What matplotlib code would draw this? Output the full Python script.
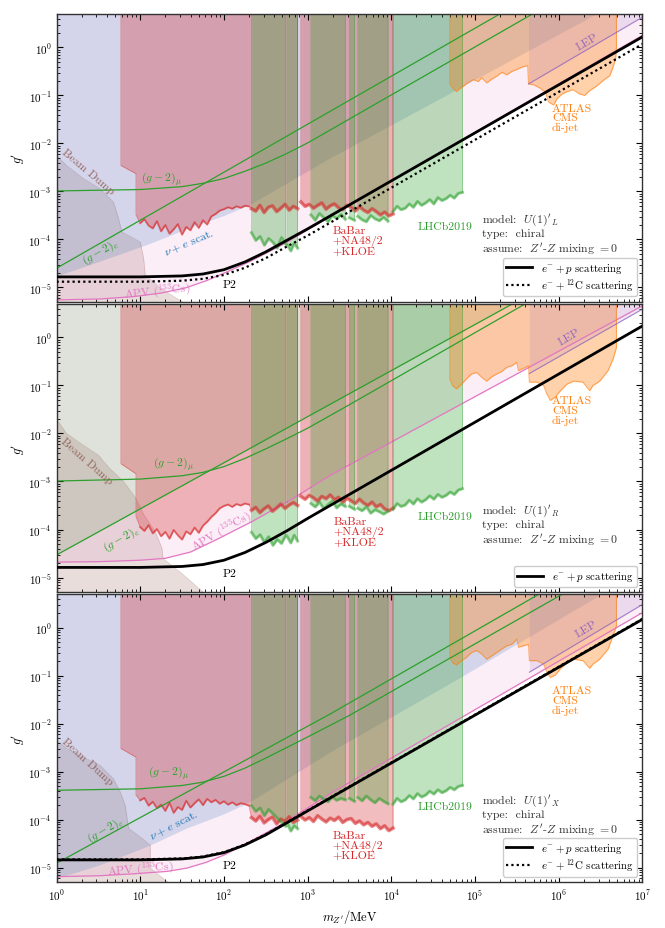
import numpy as np
import matplotlib
matplotlib.use("Agg")
import matplotlib.pyplot as plt
from matplotlib.lines import Line2D
from matplotlib.ticker import LogLocator, NullFormatter, FixedLocator, FixedFormatter

plt.rcParams.update({
    "font.family": "serif",
    "font.serif": ["cmr10", "DejaVu Serif"],
    "mathtext.fontset": "cm",
    "axes.formatter.use_mathtext": True,
    "axes.unicode_minus": False,
    "font.size": 8,
})

# all values are log10 (mass in MeV, coupling g')
# ---- shared mass grids ----
black_lx = [0, 1, 1.5, 1.75, 2.0, 2.25, 2.5, 2.75, 3.0, 7.0]
g2mu_lx = [0, 1.0, 1.5, 1.75, 2.0, 2.25, 2.5, 2.75, 3.0, 3.5, 6.2]
red_step_lx = [0.77, 0.95]
red_low_lx = np.linspace(0.95, 2.30, 28)
babar_a_lx = np.linspace(2.33, 2.88, 12)
babar_b_lx = np.linspace(2.92, 4.02, 23)
lhcb_lx = [np.linspace(2.33, 2.74, 9), np.linspace(2.76, 2.88, 4),
           np.linspace(3.04, 3.45, 9), np.linspace(3.50, 3.56, 2),
           np.linspace(3.60, 3.96, 8), np.linspace(4.02, 4.85, 18)]
nue_lx = [0, 0.52, 1.12, 1.55, 2.0, 2.31, 3.27, 4.86, 6.5]
x_ticks = [0, 1, 2, 3, 4, 5, 6, 7]
y_ticks = [-5, -4, -3, -2, -1, 0]

# ---- U(1)'_L (top) ----
L_bd_lx = [0, 0.12, 0.32, 0.52, 0.68, 0.74, 0.78, 1.0, 1.04, 1.06, 1.24, 1.55]
L_bd_ly = [-2.25, -2.46, -2.73, -2.94, -3.22, -3.56, -3.84, -4.05, -4.39, -4.74, -5.01, -5.35]
L_nue_ly = [-4.76, -4.45, -4.08, -3.78, -3.50, -3.27, -2.30, -0.80, 0.75]
L_apv_lx = [0, 0.52, 0.92, 1.24, 1.54, 1.79, 2.03, 2.31, 2.71, 3.27, 7.0]
L_apv_ly = [-5.26, -5.24, -5.19, -5.12, -5.01, -4.86, -4.68, -4.46, -4.10, -3.52, 0.25]
L_p2_ly = [-4.78, -4.78, -4.76, -4.72, -4.63, -4.47, -4.26, -4.02, -3.78, 0.22]
L_c12_ly = [-4.88, -4.88, -4.86, -4.82, -4.74, -4.59, -4.39, -4.15, -3.92, 0.07]
L_g2mu_ly = [-2.99, -2.96, -2.90, -2.83, -2.73, -2.58, -2.41, -2.21, -1.99, -1.49, 1.21]
L_g2e_lx = [0, 7]
L_g2e_ly = [-4.60, 2.40]
L_red_step_ly = [-2.46, -2.63]
L_red_low_ly = [-3.49, -3.66, -3.58, -3.71, -3.77, -3.62, -3.83, -3.70, -3.88, -3.79,
                -3.68, -3.90, -3.74, -3.81, -3.64, -3.76, -3.60, -3.69, -3.52, -3.47,
                -3.40, -3.37, -3.33, -3.36, -3.31, -3.34, -3.30, -3.31]
L_babar_a_ly = [-3.36, -3.41, -3.29, -3.44, -3.33, -3.30, -3.42, -3.35, -3.27, -3.39, -3.31, -3.36]
L_babar_b_ly = [-3.22, -3.31, -3.27, -3.35, -3.29, -3.24, -3.37, -3.30, -3.26, -3.34,
                -3.38, -3.29, -3.33, -3.41, -3.32, -3.39, -3.44, -3.36, -3.42, -3.49,
                -3.43, -3.51, -3.47]
L_lhcb_ly = [[-3.86, -4.02, -3.94, -4.12, -3.98, -4.06, -4.18, -3.96, -4.10],
             [-4.12, -4.24, -4.08, -4.18],
             [-3.49, -3.60, -3.46, -3.55, -3.63, -3.50, -3.57, -3.48, -3.58],
             [-3.55, -3.60],
             [-3.52, -3.59, -3.63, -3.50, -3.57, -3.61, -3.54, -3.62],
             [-3.42, -3.31, -3.38, -3.35, -3.26, -3.33, -3.21, -3.29, -3.24,
              -3.17, -3.26, -3.13, -3.19, -3.15, -3.08, -3.14, -3.04, -3.02]]
L_atlas_lx = [4.70, 4.74, 4.78, 4.82, 4.86, 4.92, 4.98, 5.04, 5.08, 5.14, 5.20, 5.26, 5.32,
              5.38, 5.44, 5.50, 5.56, 5.63, 5.64, 5.70, 5.78, 5.84, 5.88, 5.94, 5.98, 6.04,
              6.10, 6.17, 6.25, 6.31, 6.37, 6.45, 6.53, 6.61, 6.65, 6.68, 6.69]
L_atlas_ly = [-0.76, -0.86, -0.92, -0.86, -0.81, -0.73, -0.67, -0.71, -0.63, -0.74, -0.66,
              -0.60, -0.52, -0.57, -0.50, -0.46, -0.41, -0.38, -0.76, -0.78, -0.85, -0.93,
              -1.14, -1.20, -1.07, -0.97, -0.92, -0.88, -0.97, -1.00, -0.90, -0.81, -0.69,
              -0.59, -0.41, -0.24, 0.0]
L_lep_lx = [5.64, 7.0]
L_lep_ly = [-0.76, 0.63]

# ---- U(1)'_R (middle) ----
R_bd_lx = [0, 0.12, 0.30, 0.50, 0.62, 0.80, 0.94, 1.04, 1.18, 1.26, 1.27, 1.50, 1.75]
R_bd_ly = [-1.70, -2.00, -2.22, -2.45, -2.70, -3.00, -3.33, -3.68, -4.05, -4.39, -4.60, -4.92, -5.30]
R_apv_lx = [0, 0.5, 1.0, 1.3, 1.6, 1.9, 2.33, 2.8, 3.27, 7.0]
R_apv_ly = [-4.68, -4.67, -4.64, -4.60, -4.47, -4.22, -3.84, -3.38, -2.87, 0.66]
R_p2_ly = [-4.79, -4.79, -4.77, -4.73, -4.64, -4.48, -4.27, -4.03, -3.77, 0.24]
R_g2mu_ly = [-2.99, -2.95, -2.88, -2.81, -2.69, -2.52, -2.32, -2.11, -1.89, -1.40, 1.30]
R_g2e_lx = [0, 7]
R_g2e_ly = [-4.53, 2.19]
R_red_step_ly = [-2.63, -2.84]
R_red_low_ly = [-3.73, -3.95, -4.03, -3.91, -4.08, -3.99, -4.14, -4.05, -4.19, -4.01,
                -4.12, -4.21, -4.04, -4.10, -3.96, -4.07, -3.92, -3.84, -3.74, -3.66,
                -3.56, -3.51, -3.48, -3.53, -3.47, -3.50, -3.46, -3.48]
R_babar_a_ly = [-3.60, -3.54, -3.65, -3.57, -3.51, -3.62, -3.55, -3.47, -3.56, -3.49, -3.44, -3.50]
R_babar_b_ly = [-3.31, -3.37, -3.29, -3.34, -3.41, -3.31, -3.36, -3.28, -3.38, -3.33,
                -3.43, -3.35, -3.40, -3.46, -3.37, -3.45, -3.50, -3.43, -3.53, -3.48,
                -3.57, -3.61, -3.56]
R_lhcb_ly = [[-4.06, -4.19, -4.11, -4.27, -4.15, -4.33, -4.21, -4.29, -4.12],
             [-4.16, -4.28, -4.12, -4.24],
             [-3.46, -3.53, -3.43, -3.57, -3.48, -3.41, -3.55, -3.47, -3.52],
             [-3.52, -3.58],
             [-3.56, -3.61, -3.53, -3.66, -3.59, -3.63, -3.68, -3.62],
             [-3.58, -3.46, -3.52, -3.49, -3.39, -3.47, -3.36, -3.43, -3.38,
              -3.30, -3.37, -3.27, -3.33, -3.29, -3.22, -3.27, -3.18, -3.15]]
RX_atlas_lx = [4.70, 4.73, 4.78, 4.84, 4.90, 4.96, 5.02, 5.08, 5.14, 5.20, 5.26, 5.32,
               5.38, 5.44, 5.50, 5.52, 5.58, 5.64, 5.65, 5.74, 5.82, 5.86, 5.90, 5.96,
               6.02, 6.10, 6.18, 6.29, 6.37, 6.41, 6.49, 6.59, 6.65, 6.69]
R_atlas_ly = [-0.86, -1.00, -1.07, -0.97, -0.86, -0.76, -0.73, -0.83, -0.91, -0.82,
              -0.76, -0.71, -0.62, -0.59, -0.52, -0.69, -0.64, -0.59, -0.93, -0.93,
              -1.00, -1.18, -1.31, -1.24, -1.11, -0.97, -0.91, -0.93, -1.11, -1.00,
              -0.91, -0.69, -0.45, -0.21]
R_lep_lx = [5.65, 7.0]
R_lep_ly = [-0.75, 0.59]

# ---- U(1)'_X (bottom) ----
X_bd_lx = [0, 0.12, 0.32, 0.52, 0.68, 0.76, 0.82, 0.86, 1.0, 1.12, 1.12, 1.32, 1.45]
X_bd_ly = [-2.35, -2.52, -2.70, -2.87, -3.15, -3.42, -3.70, -4.18, -4.36, -4.53, -5.01, -5.29, -5.40]
X_nue_ly = [-5.22, -4.94, -4.53, -4.18, -3.88, -3.63, -2.59, -1.00, 0.69]
X_apv_lx = [0, 0.52, 0.92, 1.32, 1.56, 1.79, 2.0, 2.31, 2.71, 3.27, 7.0]
X_apv_ly = [-5.19, -5.17, -5.13, -5.08, -5.01, -4.89, -4.74, -4.46, -4.08, -3.46, 0.31]
X_p2_ly = [-4.84, -4.84, -4.82, -4.78, -4.69, -4.53, -4.32, -4.07, -3.82, 0.17]
X_c12_ly = [-4.83, -4.83, -4.81, -4.77, -4.68, -4.52, -4.31, -4.06, -3.81, 0.18]
X_g2mu_ly = [-3.39, -3.36, -3.29, -3.22, -3.10, -2.93, -2.72, -2.50, -2.28, -1.83, 0.85]
X_g2e_lx = [0, 3.27, 7]
X_g2e_ly = [-4.91, -1.80, 1.93]
X_red_step_ly = [-2.52, -2.70]
X_red_low_ly = [-3.49, -3.60, -3.55, -3.71, -3.63, -3.76, -3.69, -3.82, -3.65, -3.86,
                -3.74, -3.80, -3.61, -3.75, -3.66, -3.58, -3.70, -3.57, -3.64, -3.59,
                -3.67, -3.62, -3.69, -3.64, -3.70, -3.66, -3.68, -3.71]
X_babar_a_ly = [-3.96, -4.03, -3.93, -4.07, -4.00, -3.95, -4.09, -3.99, -4.04, -3.94, -4.06, -4.01]
X_babar_b_ly = [-3.94, -4.01, -3.96, -4.04, -3.92, -3.99, -4.05, -3.97, -4.02, -3.95,
                -4.06, -4.00, -3.98, -4.08, -4.03, -4.11, -4.06, -4.14, -4.09, -4.19,
                -4.13, -4.23, -4.18]
X_lhcb_ly = [[-3.71, -3.83, -3.76, -3.92, -3.79, -3.88, -3.97, -4.06, -4.14],
             [-4.09, -4.24, -4.13, -4.19],
             [-3.54, -3.61, -3.51, -3.58, -3.63, -3.53, -3.60, -3.56, -3.59],
             [-3.56, -3.62],
             [-3.54, -3.61, -3.51, -3.59, -3.65, -3.56, -3.62, -3.67],
             [-3.68, -3.56, -3.63, -3.59, -3.50, -3.57, -3.46, -3.53, -3.49,
              -3.41, -3.47, -3.38, -3.44, -3.40, -3.33, -3.38, -3.31, -3.29]]
X_atlas_ly = [-0.62, -0.73, -0.78, -0.69, -0.62, -0.52, -0.48, -0.55, -0.66, -0.59,
              -0.52, -0.45, -0.38, -0.35, -0.24, -0.41, -0.38, -0.35, -0.69, -0.69,
              -0.76, -0.93, -1.04, -0.99, -0.86, -0.73, -0.66, -0.69, -0.85, -0.76,
              -0.66, -0.45, -0.17, 0.03]
X_lep_lx = [5.65, 7.0]
X_lep_ly = [-0.93, 0.48]

# label anchors (log10 x, log10 y, rotation)
L_labels = {"bd": (0.38, -2.57, -40), "mu": (1.26, -2.72, 0), "e": (0.52, -4.25, 30),
            "nue": (1.59, -4.06, 23), "apv": (1.20, -5.08, 6), "p2": (2.07, -4.93, 0),
            "babar": (3.30, -3.71), "lhcb": (4.31, -3.73), "atlas": (5.92, -1.16),
            "lep": (6.34, 0.12, 31), "model": (5.08, -3.40)}
R_labels = {"bd": (0.36, -2.56, -41), "mu": (1.40, -2.63, 0), "e": (0.78, -4.18, 30),
            "apv": (1.97, -4.02, 30), "p2": (2.07, -4.92, 0),
            "babar": (3.31, -3.73), "lhcb": (4.31, -3.72), "atlas": (5.92, -1.21),
            "lep": (6.13, 0.01, 31), "model": (5.08, -3.41)}
X_labels = {"bd": (0.37, -2.79, -42), "mu": (1.34, -3.03, 0), "e": (0.58, -4.20, 30),
            "nue": (1.40, -4.12, 27), "apv": (1.00, -5.03, 5), "p2": (2.07, -4.95, 0),
            "babar": (3.30, -4.22), "lhcb": (4.31, -3.73), "atlas": (5.92, -1.21),
            "lep": (6.33, -0.02, 31), "model": (5.08, -3.42)}


def P(v):
    return 10.0 ** np.asarray(v, dtype=float)


TOP, BOT = 10.0, 1e-7
DOT = (0, (1, 1.4))


def outline(ax, lx, ly, color, lw=0.7, alpha=0.8):
    xs = np.concatenate([[lx[0]], lx, [lx[-1]]])
    ys = np.concatenate([[2.0], ly, [2.0]])
    ax.plot(P(xs), P(ys), color=color, lw=lw, alpha=alpha, zorder=2)


def draw(ax, d):
    # beam dump
    ax.fill_between(P(d["bd_lx"]), BOT, P(d["bd_ly"]), color="tab:brown", alpha=0.2, lw=0, zorder=1)
    ax.plot(P(d["bd_lx"]), P(d["bd_ly"]), color="tab:brown", lw=0.5, alpha=0.25, zorder=1)
    # nu + e scattering
    if d.get("nue_ly") is not None:
        ax.fill_between(P(nue_lx), P(d["nue_ly"]), TOP, color="tab:blue", alpha=0.2, lw=0, zorder=1)
    # (g-2)_e filled only for the R model
    if d.get("g2e_fill"):
        ax.fill_between(P(d["g2e_lx"]), P(d["g2e_ly"]), TOP, color="tab:green", alpha=0.15, lw=0, zorder=1)
    # APV
    ax.fill_between(P(d["apv_lx"]), P(d["apv_ly"]), TOP, color="tab:pink", alpha=0.12, lw=0, zorder=1)
    ax.plot(P(d["apv_lx"]), P(d["apv_ly"]), color="tab:pink", lw=0.9, zorder=2)
    # BaBar + NA48/2 + KLOE
    ra_x = np.concatenate([red_step_lx, red_low_lx, babar_a_lx])
    ra_y = np.concatenate([d["red_step_ly"], d["red_low_ly"], d["babar_a_ly"]])
    for rx, ry in [(ra_x, ra_y), (babar_b_lx, np.asarray(d["babar_b_ly"]))]:
        ax.fill_between(P(rx), P(ry), TOP, color="tab:red", alpha=0.3, lw=0, zorder=1)
        outline(ax, rx, ry, "tab:red", lw=0.6, alpha=0.5)
    ax.plot(P(red_low_lx[1:]), P(d["red_low_ly"][1:]), color="tab:red", lw=1.5, alpha=0.5, zorder=2)
    for bx, by in [(babar_a_lx, d["babar_a_ly"]), (babar_b_lx, d["babar_b_ly"])]:
        ax.plot(P(bx), P(by), color="tab:red", lw=2.6, alpha=0.55, zorder=2)
    # LHCb
    for gx, gy in zip(lhcb_lx, d["lhcb_ly"]):
        ax.fill_between(P(gx), P(gy), TOP, color="tab:green", alpha=0.3, lw=0, zorder=1)
        outline(ax, gx, np.asarray(gy), "tab:green", lw=0.6, alpha=0.4)
        ax.plot(P(gx), P(gy), color="tab:green", lw=2.2, alpha=0.5, zorder=2)
    # ATLAS / CMS di-jet
    ax.fill_between(P(d["atlas_lx"]), P(d["atlas_ly"]), TOP, color="tab:orange", alpha=0.35, lw=0, zorder=1)
    outline(ax, np.asarray(d["atlas_lx"]), np.asarray(d["atlas_ly"]), "tab:orange", lw=0.8, alpha=0.6)
    # LEP
    ax.fill_between(P(d["lep_lx"]), P(d["lep_ly"]), TOP, color="tab:purple", alpha=0.15, lw=0, zorder=1)
    ax.plot(P(d["lep_lx"]), P(d["lep_ly"]), color="tab:purple", lw=0.8, alpha=0.8, zorder=2)
    # (g-2) lines
    ax.plot(P(g2mu_lx), P(d["g2mu_ly"]), color="tab:green", lw=0.9, zorder=2)
    ax.plot(P(d["g2e_lx"]), P(d["g2e_ly"]), color="tab:green", lw=0.9, zorder=2)
    # P2 projections
    ax.plot(P(black_lx), P(d["p2_ly"]), color="k", lw=2.0, zorder=3)
    if d.get("c12_ly") is not None:
        ax.plot(P(black_lx), P(d["c12_ly"]), color="k", lw=1.6, ls=DOT, zorder=3)

    lab = d["labels"]
    fs = 8.5

    def t(key, s, color, **kw):
        v = lab[key]
        rot = v[2] if len(v) > 2 else 0
        ax.text(10 ** v[0], 10 ** v[1], s, color=color, fontsize=fs, rotation=rot,
                rotation_mode="anchor", zorder=4, **kw)

    t("bd", "Beam Dump", "#8c564b", ha="center", va="center", alpha=0.85)
    t("mu", r"$(g-2)_\mu$", "tab:green", ha="center", va="center")
    t("e", r"$(g-2)_e$", "tab:green", ha="center", va="center")
    if "nue" in lab:
        t("nue", r"$\nu+e$ scat.", "tab:blue", ha="center", va="center")
    t("apv", r"APV ($^{133}$Cs)", "tab:pink", ha="center", va="center")
    t("p2", "P2", "k", ha="center", va="center")
    t("babar", "BaBar\n+NA48/2\n+KLOE", "tab:red", ha="left", va="top", linespacing=1.0)
    t("lhcb", "LHCb2019", "tab:green", ha="left", va="center")
    t("atlas", "ATLAS\nCMS\ndi-jet", "tab:orange", ha="left", va="top", linespacing=1.0)
    t("lep", "LEP", "tab:purple", ha="center", va="center")
    t("model", d["model"] + "\ntype:  chiral\nassume:  $Z'$-$Z$ mixing $= 0$", "#333333",
      ha="left", va="top", linespacing=1.15)

    handles = [Line2D([], [], color="k", lw=2.0)]
    names = [r"$e^{-} + p$ scattering"]
    if d.get("c12_ly") is not None:
        handles.append(Line2D([], [], color="k", lw=1.6, ls=DOT))
        names.append(r"$e^{-} + {}^{12}$C scattering")
    ax.legend(handles, names, loc="lower right", fontsize=7.8, handlelength=2.4,
              borderpad=0.3, labelspacing=0.15, handletextpad=0.8, framealpha=1.0)

    ax.set_xscale("log")
    ax.set_yscale("log")
    ax.set_xlim(1, 1e7)
    ax.set_ylim(5e-6, 5)
    ax.xaxis.set_major_locator(FixedLocator(P(x_ticks)))
    ax.xaxis.set_major_formatter(FixedFormatter([r"$10^{%d}$" % k for k in x_ticks]))
    ax.yaxis.set_major_locator(FixedLocator(P(y_ticks)))
    ax.yaxis.set_major_formatter(FixedFormatter([r"$10^{%d}$" % k for k in y_ticks]))
    ax.xaxis.set_minor_locator(LogLocator(base=10, subs=np.arange(2, 10), numticks=20))
    ax.yaxis.set_minor_locator(LogLocator(base=10, subs=np.arange(2, 10), numticks=20))
    ax.xaxis.set_minor_formatter(NullFormatter())
    ax.yaxis.set_minor_formatter(NullFormatter())
    ax.tick_params(which="both", direction="in", top=True, right=True, labelsize=8)
    ax.tick_params(which="major", length=4)
    ax.tick_params(which="minor", length=2)
    for sp in ax.spines.values():
        sp.set_linewidth(1.0)
        sp.set_color("#333333")
    ax.set_ylabel(r"$g'$", fontsize=9, labelpad=1)


panels = [
    dict(bd_lx=L_bd_lx, bd_ly=L_bd_ly, nue_ly=L_nue_ly, apv_lx=L_apv_lx, apv_ly=L_apv_ly,
         p2_ly=L_p2_ly, c12_ly=L_c12_ly, g2mu_ly=L_g2mu_ly,
         g2e_lx=L_g2e_lx, g2e_ly=L_g2e_ly, red_step_ly=L_red_step_ly, red_low_ly=L_red_low_ly,
         babar_a_ly=L_babar_a_ly, babar_b_ly=L_babar_b_ly, lhcb_ly=L_lhcb_ly,
         atlas_lx=L_atlas_lx, atlas_ly=L_atlas_ly, lep_lx=L_lep_lx, lep_ly=L_lep_ly,
         labels=L_labels, model=r"model:  $U(1)'_L$"),
    dict(bd_lx=R_bd_lx, bd_ly=R_bd_ly, g2e_fill=True, apv_lx=R_apv_lx, apv_ly=R_apv_ly,
         p2_ly=R_p2_ly, g2mu_ly=R_g2mu_ly,
         g2e_lx=R_g2e_lx, g2e_ly=R_g2e_ly, red_step_ly=R_red_step_ly, red_low_ly=R_red_low_ly,
         babar_a_ly=R_babar_a_ly, babar_b_ly=R_babar_b_ly, lhcb_ly=R_lhcb_ly,
         atlas_lx=RX_atlas_lx, atlas_ly=R_atlas_ly, lep_lx=R_lep_lx, lep_ly=R_lep_ly,
         labels=R_labels, model=r"model:  $U(1)'_R$"),
    dict(bd_lx=X_bd_lx, bd_ly=X_bd_ly, nue_ly=X_nue_ly, apv_lx=X_apv_lx, apv_ly=X_apv_ly,
         p2_ly=X_p2_ly, c12_ly=X_c12_ly, g2mu_ly=X_g2mu_ly,
         g2e_lx=X_g2e_lx, g2e_ly=X_g2e_ly, red_step_ly=X_red_step_ly, red_low_ly=X_red_low_ly,
         babar_a_ly=X_babar_a_ly, babar_b_ly=X_babar_b_ly, lhcb_ly=X_lhcb_ly,
         atlas_lx=RX_atlas_lx, atlas_ly=X_atlas_ly, lep_lx=X_lep_lx, lep_ly=X_lep_ly,
         labels=X_labels, model=r"model:  $U(1)'_X$"),
]

fig, axes = plt.subplots(3, 1, figsize=(6.65, 9.29), dpi=100, sharex=True)
fig.subplots_adjust(left=0.085, right=0.966, top=0.984, bottom=0.0495, hspace=0.007)

for ax, d in zip(axes, panels):
    draw(ax, d)

for ax in axes[:-1]:
    ax.tick_params(labelbottom=False)
axes[-1].set_xlabel(r"$m_{Z'}/\mathrm{MeV}$", fontsize=9)

fig.savefig("out.png", dpi=100)
